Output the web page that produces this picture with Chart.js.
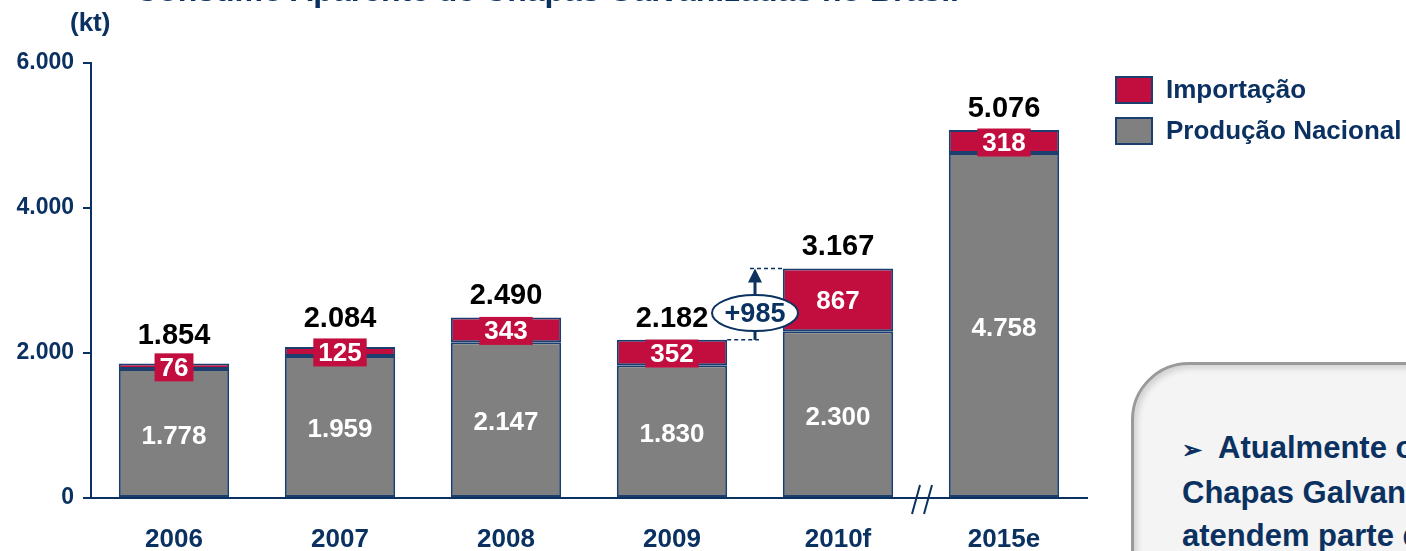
<!DOCTYPE html>
<html>
<head>
<meta charset="utf-8">
<script src="https://cdn.jsdelivr.net/npm/chart.js@4"></script>
<style>
    body { margin: 0; background: #fff; font-family: Arial, "Liberation Sans", sans-serif; }
    .wrap { position: relative; width: 1406px; height: 551px; overflow: hidden; }
    canvas { position: absolute; left: 0; top: 0; }
    .title { position: absolute; left: 135px; top: -26px; font-size: 32px; line-height: 32px; font-weight: bold; color: #0b3161; white-space: nowrap; }
    .unit { position: absolute; left: 70px; top: 7px; font-size: 26px; font-weight: bold; color: #0b3161; }
    .note { position: absolute; left: 1131px; top: 362px; width: 400px; height: 300px; border-radius: 58px; background: #f4f4f4;
            border: 3px solid #9a9a9a; box-shadow: inset 3px 3px 6px rgba(0,0,0,0.15); box-sizing: border-box; }
    .note p { margin: 0; position: absolute; left: 48px; top: 61px; font-size: 31px; line-height: 43px; font-weight: bold; color: #0b3161; white-space: nowrap; }
</style>
</head>
<body>
<div class="wrap">
    <canvas id="chart" width="1406" height="551"></canvas>
    <div class="title">Consumo Aparente de Chapas Galvanizadas no Brasil</div>
    <div class="unit">(kt)</div>
    <div class="note"><p><span style="font-size:24px">&#10146;</span>&nbsp; Atualmente os produtores de<br>Chapas Galvanizadas nacionais<br>atendem parte da demanda</p></div>
</div>
<script>
const years = ['2006', '2007', '2008', '2009', '2010f', '2015e'];
const producao = [1778, 1959, 2147, 1830, 2300, 4758];
const importacao = [76, 125, 343, 352, 867, 318];
const totals = [1854, 2084, 2490, 2182, 3167, 5076];
const yTicks = [0, 2000, 4000, 6000];

const navy = '#0b3161';
const edge = '#1b3f6e';
const red = '#c20e3e';
const gray = '#808080';
const fmt = v => v.toLocaleString('de-DE');
const F = 'Arial, "Liberation Sans"';

const labelsPlugin = {
    id: 'labels',
    afterDatasetsDraw(chart) {
        const ctx = chart.ctx;
        const x = chart.scales.x, y = chart.scales.y;
        ctx.save();
        ctx.textAlign = 'center';
        ctx.textBaseline = 'middle';
        const impMeta = chart.getDatasetMeta(0);
        years.forEach((yr, i) => {
            const cx = x.getPixelForValue(i);
            // production value
            const pTop = y.getPixelForValue(producao[i]);
            ctx.font = 'bold 26px ' + F;
            ctx.fillStyle = '#fff';
            ctx.fillText(fmt(producao[i]), cx, (pTop + y.getPixelForValue(0)) / 2 + 3);
            // import value with red box
            const iTop = y.getPixelForValue(totals[i]);
            const iy = (iTop + pTop) / 2 + 1;
            const w = ctx.measureText(fmt(importacao[i])).width + 10;
            ctx.fillStyle = red;
            ctx.fillRect(cx - w / 2, iy - 14, w, 28);
            ctx.fillStyle = '#fff';
            ctx.fillText(fmt(importacao[i]), cx, iy + 1);
            // total
            ctx.fillStyle = '#000';
            ctx.font = 'bold 29px ' + F;
            const off = importacao[i] < 200 ? 28 : 21;
            ctx.fillText(fmt(totals[i]), cx, iTop - off);
        });

        // +985 annotation between 2009 and 2010f
        const yLow = y.getPixelForValue(totals[3]);
        const yHigh = y.getPixelForValue(totals[4]);
        const bw = impMeta.data[3].width;
        const r2009 = x.getPixelForValue(3) + bw / 2;
        const l2010 = x.getPixelForValue(4) - bw / 2;
        const ax = (r2009 + l2010) / 2;
        ctx.strokeStyle = navy;
        ctx.lineWidth = 1.5;
        ctx.setLineDash([4, 3]);
        ctx.beginPath();
        ctx.moveTo(r2009, yLow); ctx.lineTo(ax + 4, yLow);
        ctx.moveTo(ax - 5, yHigh); ctx.lineTo(l2010, yHigh);
        ctx.stroke();
        ctx.setLineDash([]);
        ctx.lineWidth = 3;
        ctx.beginPath();
        ctx.moveTo(ax, yLow); ctx.lineTo(ax, yHigh + 12);
        ctx.stroke();
        ctx.fillStyle = navy;
        ctx.beginPath();
        ctx.moveTo(ax, yHigh); ctx.lineTo(ax - 7, yHigh + 14); ctx.lineTo(ax + 7, yHigh + 14);
        ctx.closePath(); ctx.fill();
        const ey = (yLow + yHigh) / 2 + 9;
        ctx.fillStyle = '#fff';
        ctx.lineWidth = 2;
        ctx.beginPath();
        ctx.ellipse(ax, ey, 43, 18, 0, 0, Math.PI * 2);
        ctx.fill(); ctx.stroke();
        ctx.fillStyle = navy;
        ctx.font = 'bold 27px ' + F;
        ctx.fillText('+' + (totals[4] - totals[3]), ax, ey + 1);

        // axis break marks
        const bx = (x.getPixelForValue(4) + x.getPixelForValue(5)) / 2;
        const by = y.getPixelForValue(0);
        ctx.strokeStyle = navy;
        ctx.lineWidth = 2;
        ctx.beginPath();
        ctx.moveTo(bx - 9, by + 16); ctx.lineTo(bx - 1, by - 13);
        ctx.moveTo(bx + 3, by + 16); ctx.lineTo(bx + 11, by - 13);
        ctx.stroke();

        // legend
        ctx.textAlign = 'left';
        ctx.font = 'bold 26px ' + F;
        [[0, 90], [1, 131]].forEach(([d, ly]) => {
            const ds = chart.data.datasets[d];
            ctx.fillStyle = ds.backgroundColor;
            ctx.fillRect(1116, ly - 13, 36, 26);
            ctx.strokeStyle = edge;
            ctx.lineWidth = 2;
            ctx.strokeRect(1116, ly - 13, 36, 26);
            ctx.fillStyle = navy;
            ctx.fillText(ds.label, 1166, ly + 1);
        });
        ctx.restore();
    }
};

new Chart(document.getElementById('chart'), {
    type: 'bar',
    data: {
        labels: years,
        datasets: [
            { label: 'Importação', data: producao.map((p, i) => [p, p + importacao[i]]), backgroundColor: red, borderColor: edge, borderWidth: 2, borderSkipped: false },
            { label: 'Produção Nacional', data: producao.map(p => [0, p]), backgroundColor: gray, borderColor: edge, borderWidth: 2, borderSkipped: false }
        ]
    },
    options: {
        responsive: false,
        animation: false,
        layout: { padding: { top: 63, right: 319, left: 0, bottom: 0 } },
        datasets: { bar: { barPercentage: 1, categoryPercentage: 0.665 } },
        plugins: { legend: { display: false }, tooltip: { enabled: false } },
        scales: {
            x: {
                stacked: true,
                grid: { display: false },
                border: { color: navy, width: 2 },
                ticks: { color: navy, font: { family: F, size: 26, weight: 'bold' }, padding: 18 },
                afterFit(s) { s.height = 53; }
            },
            y: {
                min: 0, max: 6000,
                afterBuildTicks(s) { s.ticks = yTicks.map(v => ({ value: v })); },
                grid: { drawOnChartArea: false, drawTicks: true, tickLength: 8, color: navy, lineWidth: 2 },
                border: { color: navy, width: 2 },
                ticks: { color: navy, font: { family: F, size: 23, weight: 'bold' }, padding: 9, callback: v => fmt(v) },
                afterFit(s) { s.width = 91; }
            }
        }
    },
    plugins: [labelsPlugin]
});
</script>
</body>
</html>
